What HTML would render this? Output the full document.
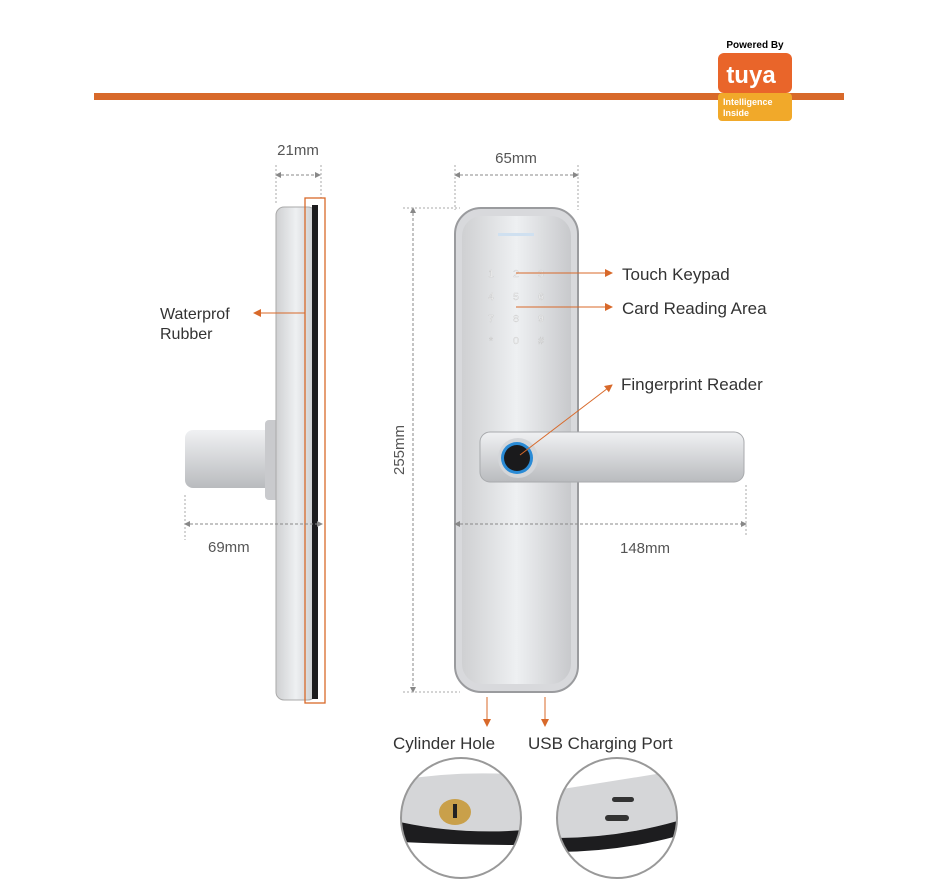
<!DOCTYPE html>
<html><head><style>body{margin:0;background:#fff}svg{display:block}text{font-family:"Liberation Sans",sans-serif}</style></head><body>
<svg width="934" height="894" viewBox="0 0 934 894" xmlns="http://www.w3.org/2000/svg">
<defs>
<marker id="a" markerWidth="8" markerHeight="8" refX="7" refY="4" orient="auto"><path d="M0,0L8,4L0,8z" fill="#d8692a"/></marker>
<marker id="g" markerWidth="6" markerHeight="6" refX="5" refY="3" orient="auto-start-reverse"><path d="M0,0L6,3L0,6z" fill="#888"/></marker>
<linearGradient id="m" x1="0" x2="1"><stop offset="0" stop-color="#cfd0d2"/><stop offset=".5" stop-color="#eef0f2"/><stop offset="1" stop-color="#c8c9cc"/></linearGradient>
<linearGradient id="h" x1="0" y1="0" x2="0" y2="1"><stop offset="0" stop-color="#f0f1f3"/><stop offset="1" stop-color="#b9bbbe"/></linearGradient>
<clipPath id="c1"><circle cx="461" cy="818" r="60"/></clipPath>
<clipPath id="c2"><circle cx="617" cy="818" r="60"/></clipPath>
</defs>
<rect x="94" y="93" width="750" height="7" fill="#d8692a"/>
<text x="755" y="48" font-size="10" font-weight="bold" text-anchor="middle">Powered By</text>
<rect x="718" y="53" width="74" height="40" rx="6" fill="#e9652a"/>
<text x="751" y="83" font-size="24" font-weight="bold" fill="#fff" text-anchor="middle">tuya</text>
<rect x="718" y="93" width="74" height="28" rx="4" fill="#f1a92a"/>
<text x="723" y="105" font-size="9" font-weight="bold" fill="#fff">Intelligence</text>
<text x="723" y="116" font-size="9" font-weight="bold" fill="#fff">Inside</text>

<!-- side view -->
<text x="298" y="155" font-size="15" fill="#555" text-anchor="middle">21mm</text>
<line x1="276" y1="175" x2="320" y2="175" stroke="#888" stroke-dasharray="3,2" marker-start="url(#g)" marker-end="url(#g)"/>
<line x1="276" y1="165" x2="276" y2="205" stroke="#aaa" stroke-dasharray="2,2"/>
<line x1="321" y1="165" x2="321" y2="198" stroke="#aaa" stroke-dasharray="2,2"/>
<rect x="185" y="430" width="92" height="58" rx="8" fill="url(#h)"/>
<rect x="265" y="420" width="14" height="80" rx="4" fill="#c9cacd"/>
<rect x="276" y="207" width="40" height="493" rx="8" fill="url(#m)" stroke="#aaa"/>
<rect x="312" y="205" width="6" height="494" fill="#1c1c1e"/>
<rect x="305" y="198" width="20" height="505" fill="none" stroke="#d8692a" stroke-width="1.3"/>
<text x="160" y="319" font-size="16" fill="#333">Waterprof</text>
<text x="160" y="339" font-size="16" fill="#333">Rubber</text>
<line x1="305" y1="313" x2="254" y2="313" stroke="#d8692a" marker-end="url(#a)"/>
<line x1="185" y1="524" x2="322" y2="524" stroke="#888" stroke-dasharray="3,2" marker-start="url(#g)" marker-end="url(#g)"/>
<line x1="185" y1="495" x2="185" y2="540" stroke="#aaa" stroke-dasharray="2,2"/>
<text x="208" y="552" font-size="15" fill="#555">69mm</text>

<!-- front -->
<text x="516" y="163" font-size="15" fill="#555" text-anchor="middle">65mm</text>
<line x1="455" y1="175" x2="578" y2="175" stroke="#888" stroke-dasharray="3,2" marker-start="url(#g)" marker-end="url(#g)"/>
<line x1="455" y1="165" x2="455" y2="210" stroke="#aaa" stroke-dasharray="2,2"/>
<line x1="578" y1="165" x2="578" y2="210" stroke="#aaa" stroke-dasharray="2,2"/>
<line x1="413" y1="208" x2="413" y2="692" stroke="#888" stroke-dasharray="3,2" marker-start="url(#g)" marker-end="url(#g)"/>
<line x1="403" y1="208" x2="460" y2="208" stroke="#aaa" stroke-dasharray="2,2"/>
<line x1="403" y1="692" x2="460" y2="692" stroke="#aaa" stroke-dasharray="2,2"/>
<text x="404" y="450" font-size="15" fill="#555" text-anchor="middle" transform="rotate(-90 404 450)">255mm</text>
<rect x="455" y="208" width="123" height="484" rx="26" fill="#d8d9dc" stroke="#9a9b9e" stroke-width="2"/>
<rect x="462" y="216" width="109" height="468" rx="20" fill="url(#m)"/>
<rect x="498" y="233" width="36" height="3" fill="#cfe0f0"/>
<g font-size="10" fill="#fff" stroke="#bbb" stroke-width=".3" text-anchor="middle">
<text x="491" y="277">1</text><text x="516" y="277">2</text><text x="541" y="277">3</text>
<text x="491" y="300">4</text><text x="516" y="300">5</text><text x="541" y="300">6</text>
<text x="491" y="322">7</text><text x="516" y="322">8</text><text x="541" y="322">9</text>
<text x="491" y="344">*</text><text x="516" y="344">0</text><text x="541" y="344">#</text></g>
<rect x="480" y="432" width="264" height="50" rx="10" fill="url(#h)" stroke="#a8aaad"/>
<circle cx="518" cy="458" r="20" fill="#d4d6d9"/>
<circle cx="517" cy="458" r="16" fill="#2a8bd6"/>
<circle cx="517" cy="458" r="13" fill="#1a1a1c"/>
<line x1="516" y1="273" x2="612" y2="273" stroke="#d8692a" marker-end="url(#a)"/>
<line x1="516" y1="307" x2="612" y2="307" stroke="#d8692a" marker-end="url(#a)"/>
<line x1="520" y1="455" x2="612" y2="385" stroke="#d8692a" marker-end="url(#a)"/>
<text x="622" y="280" font-size="17" fill="#333">Touch Keypad</text>
<text x="622" y="314" font-size="17" fill="#333">Card Reading Area</text>
<text x="621" y="390" font-size="17" fill="#333">Fingerprint Reader</text>
<line x1="455" y1="524" x2="746" y2="524" stroke="#888" stroke-dasharray="3,2" marker-start="url(#g)" marker-end="url(#g)"/>
<line x1="746" y1="485" x2="746" y2="535" stroke="#aaa" stroke-dasharray="2,2"/>
<text x="645" y="553" font-size="15" fill="#555" text-anchor="middle">148mm</text>
<line x1="487" y1="697" x2="487" y2="726" stroke="#d8692a" marker-end="url(#a)"/>
<line x1="545" y1="697" x2="545" y2="726" stroke="#d8692a" marker-end="url(#a)"/>
<text x="393" y="749" font-size="17" fill="#333">Cylinder Hole</text>
<text x="528" y="749" font-size="17" fill="#333">USB Charging Port</text>

<g clip-path="url(#c1)"><rect x="400" y="758" width="125" height="120" fill="#fff"/>
<path d="M400,780 Q460,770 525,775 L525,830 Q460,835 400,822z" fill="#d5d6d8"/>
<path d="M400,822 Q460,835 525,830 L525,845 Q460,845 400,842z" fill="#1d1d1f"/>
<ellipse cx="455" cy="812" rx="16" ry="13" fill="#c9a04a"/><rect x="453" y="804" width="4" height="14" fill="#222"/></g>
<circle cx="461" cy="818" r="60" fill="none" stroke="#999" stroke-width="2"/>
<g clip-path="url(#c2)"><rect x="556" y="758" width="125" height="120" fill="#fff"/>
<path d="M556,790 Q620,780 681,770 L681,820 Q620,838 556,838z" fill="#d5d6d8"/>
<path d="M556,838 Q620,838 681,820 L681,835 Q620,852 556,852z" fill="#1d1d1f"/>
<rect x="612" y="797" width="22" height="5" rx="2.5" fill="#333"/><rect x="605" y="815" width="24" height="6" rx="3" fill="#333"/></g>
<circle cx="617" cy="818" r="60" fill="none" stroke="#999" stroke-width="2"/>
</svg>
</body></html>
